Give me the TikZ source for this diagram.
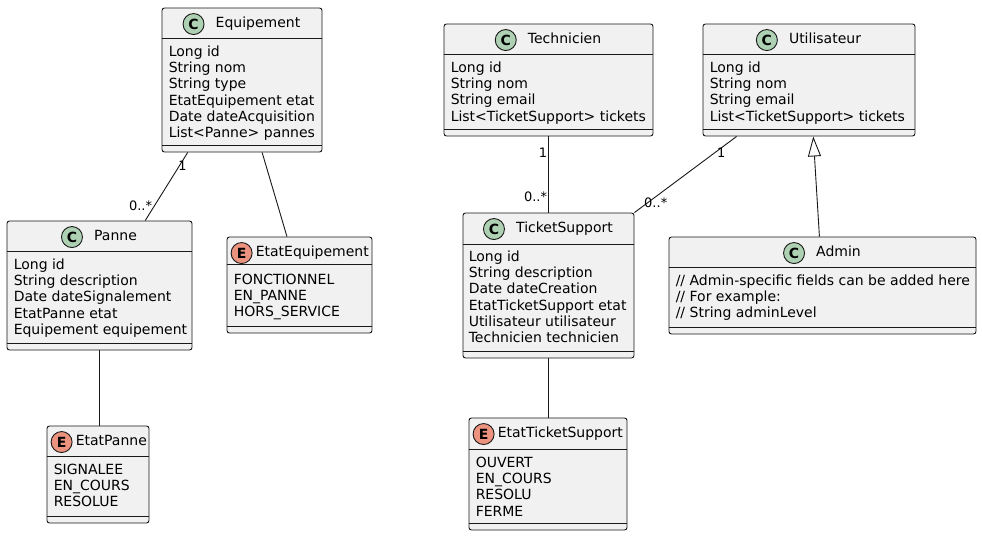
\documentclass[tikz,border=0pt]{standalone}
\usepackage{fontspec}
\setmainfont{DejaVu Sans}
\usetikzlibrary{positioning,calc,arrows.meta}
\definecolor{boxfill}{HTML}{F1F1F1}
\definecolor{boxline}{HTML}{181818}
\definecolor{clsicon}{HTML}{ADD1B2}
\definecolor{enumicon}{HTML}{EB937F}
\begin{document}
\begin{tikzpicture}[x=1pt,y=-1pt,
  cls/.style={draw=boxline,fill=boxfill,rounded corners=2.5pt,line width=0.9pt,inner sep=0pt},
  ttl/.style={inner sep=0pt,text height=10.5pt,text depth=3pt,font=\fontsize{14}{16.3}\selectfont},
  attrs/.style={inner sep=0pt,anchor=north west,align=left,font=\fontsize{14}{16.3}\selectfont},
  cicon/.style={circle,draw=boxline,fill=clsicon,line width=0.9pt,minimum size=21pt,inner sep=0pt,font=\fontsize{14}{14}\selectfont\bfseries},
  eicon/.style={cicon,fill=enumicon},
  sep/.style={draw=boxline,line width=0.9pt},
  assoc/.style={draw=boxline,line width=0.9pt},
  mult/.style={font=\fontsize{13}{13}\selectfont,inner sep=1pt},
]
\useasboundingbox (0,0) rectangle (982,537);

\node[cls,minimum width=160pt,minimum height=144pt] (equip) at (242,80) {};
\draw[sep] ([yshift=-31pt]equip.north west)--([yshift=-31pt]equip.north east);
\draw[sep] ([yshift=7pt]equip.south west)--([yshift=7pt]equip.south east);
\node[ttl] (equip-t) at ([xshift=16pt,yshift=-16.5pt]equip.north) {Equipement};
\node[cicon,left=11pt of equip-t] {C};
\node[attrs] at ([xshift=7pt,yshift=-38pt]equip.north west) {Long id\\String nom\\String type\\EtatEquipement etat\\Date dateAcquisition\\List<Panne> pannes};

\node[cls,minimum width=185pt,minimum height=129pt] (panne) at (99.5,285.5) {};
\draw[sep] ([yshift=-31pt]panne.north west)--([yshift=-31pt]panne.north east);
\draw[sep] ([yshift=7pt]panne.south west)--([yshift=7pt]panne.south east);
\node[ttl] (panne-t) at ([xshift=16pt,yshift=-16.5pt]panne.north) {Panne};
\node[cicon,left=11pt of panne-t] {C};
\node[attrs] at ([xshift=7pt,yshift=-38pt]panne.north west) {Long id\\String description\\Date dateSignalement\\EtatPanne etat\\Equipement equipement};

\node[cls,minimum width=145pt,minimum height=96pt] (etateq) at (299.5,285) {};
\draw[sep] ([yshift=-28pt]etateq.north west)--([yshift=-28pt]etateq.north east);
\draw[sep] ([yshift=7pt]etateq.south west)--([yshift=7pt]etateq.south east);
\node[ttl,anchor=west] (etateq-t) at ([xshift=29pt,yshift=-16.5pt]etateq.north west) {EtatEquipement};
\node[eicon,left=3pt of etateq-t] {E};
\node[attrs] at ([xshift=7pt,yshift=-37pt]etateq.north west) {FONCTIONNEL\\EN\_PANNE\\HORS\_SERVICE};

\node[cls,minimum width=102pt,minimum height=97pt] (etatpanne) at (98,474.5) {};
\draw[sep] ([yshift=-31pt]etatpanne.north west)--([yshift=-31pt]etatpanne.north east);
\draw[sep] ([yshift=7pt]etatpanne.south west)--([yshift=7pt]etatpanne.south east);
\node[ttl,anchor=west] (etatpanne-t) at ([xshift=29pt,yshift=-16.5pt]etatpanne.north west) {EtatPanne};
\node[eicon,left=3pt of etatpanne-t] {E};
\node[attrs] at ([xshift=7pt,yshift=-38pt]etatpanne.north west) {SIGNALEE\\EN\_COURS\\RESOLUE};

\node[cls,minimum width=209pt,minimum height=112pt] (tech) at (548.5,80) {};
\draw[sep] ([yshift=-31pt]tech.north west)--([yshift=-31pt]tech.north east);
\draw[sep] ([yshift=7pt]tech.south west)--([yshift=7pt]tech.south east);
\node[ttl] (tech-t) at ([xshift=16pt,yshift=-16.5pt]tech.north) {Technicien};
\node[cicon,left=11pt of tech-t] {C};
\node[attrs] at ([xshift=7pt,yshift=-38pt]tech.north west) {Long id\\String nom\\String email\\List<TicketSupport> tickets};

\node[cls,minimum width=212pt,minimum height=112pt] (util) at (809,80) {};
\draw[sep] ([yshift=-31pt]util.north west)--([yshift=-31pt]util.north east);
\draw[sep] ([yshift=7pt]util.south west)--([yshift=7pt]util.south east);
\node[ttl] (util-t) at ([xshift=16pt,yshift=-16.5pt]util.north) {Utilisateur};
\node[cicon,left=11pt of util-t] {C};
\node[attrs] at ([xshift=7pt,yshift=-38pt]util.north west) {Long id\\String nom\\String email\\List<TicketSupport> tickets};

\node[cls,minimum width=171pt,minimum height=145pt] (ticket) at (548.5,285.5) {};
\draw[sep] ([yshift=-32pt]ticket.north west)--([yshift=-32pt]ticket.north east);
\draw[sep] ([yshift=7pt]ticket.south west)--([yshift=7pt]ticket.south east);
\node[ttl] (ticket-t) at ([xshift=16pt,yshift=-16.5pt]ticket.north) {TicketSupport};
\node[cicon,left=11pt of ticket-t] {C};
\node[attrs] at ([xshift=6pt,yshift=-38pt]ticket.north west) {Long id\\String description\\Date dateCreation\\EtatTicketSupport etat\\Utilisateur utilisateur\\Technicien technicien};

\node[cls,minimum width=158pt,minimum height=112pt] (etatts) at (548,474) {};
\draw[sep] ([yshift=-32pt]etatts.north west)--([yshift=-32pt]etatts.north east);
\draw[sep] ([yshift=7pt]etatts.south west)--([yshift=7pt]etatts.south east);
\node[ttl,anchor=west] (etatts-t) at ([xshift=29pt,yshift=-16.5pt]etatts.north west) {EtatTicketSupport};
\node[eicon,left=3pt of etatts-t] {E};
\node[attrs] at ([xshift=7pt,yshift=-39pt]etatts.north west) {OUVERT\\EN\_COURS\\RESOLU\\FERME};

\node[cls,minimum width=307pt,minimum height=97pt] (admin) at (822.5,285.5) {};
\draw[sep] ([yshift=-31pt]admin.north west)--([yshift=-31pt]admin.north east);
\draw[sep] ([yshift=7pt]admin.south west)--([yshift=7pt]admin.south east);
\node[ttl] (admin-t) at ([xshift=16pt,yshift=-16.5pt]admin.north) {Admin};
\node[cicon,left=11pt of admin-t] {C};
\node[attrs] at ([xshift=7pt,yshift=-38pt]admin.north west) {// Admin-specific fields can be added here\\// For example:\\// String adminLevel};

\draw[assoc] ($(equip.south west)!0.1625!(equip.south east)$)--($(panne.north west)!0.746!(panne.north east)$)
  node[mult,pos=0.19,xshift=3pt]{1} node[mult,pos=0.78,anchor=east,xshift=-1pt]{0..*};
\draw[assoc] ($(equip.south west)!0.625!(equip.south east)$)--($(etateq.north west)!0.414!(etateq.north east)$);
\draw[assoc] (panne.south)--(panne.south|-etatpanne.north);
\draw[assoc] (tech.south)--(ticket.north)
  node[mult,pos=0.21,anchor=east]{1} node[mult,pos=0.79,anchor=east]{0..*};
\draw[assoc] ($(util.south west)!0.16!(util.south east)$)--(ticket.north east)
  node[mult,pos=0.21,xshift=6pt]{1} node[mult,pos=0.87,xshift=8pt]{0..*};
\draw[assoc,-{Triangle[open,length=20pt,width=13pt]}] ($(admin.north west)!0.49!(admin.north east)$)--($(util.south west)!0.52!(util.south east)$);
\draw[assoc] (ticket.south)--(ticket.south|-etatts.north);
\end{tikzpicture}
\end{document}
